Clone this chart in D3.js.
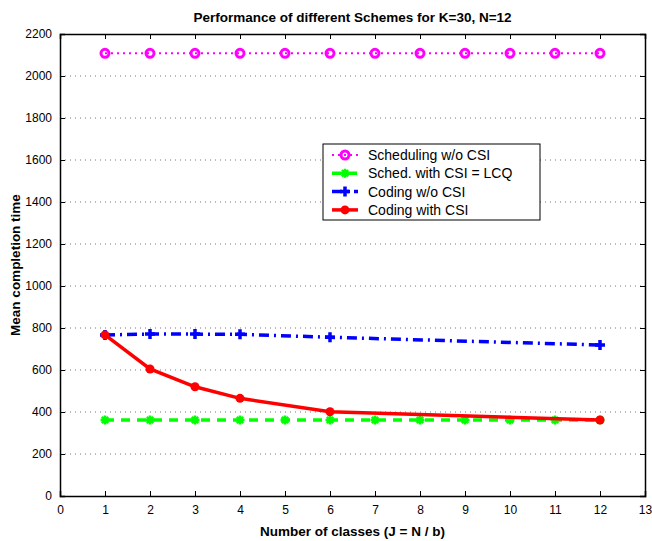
<!DOCTYPE html>
<html>
<head>
<meta charset="utf-8">
<script src="https://cdn.jsdelivr.net/npm/d3@7"></script>
<style>
body { margin: 0; background: #fff; }
text { font-family: "Liberation Sans", Arial, sans-serif; }
</style>
</head>
<body>
<script>
// data
var jAll = [1, 2, 3, 4, 5, 6, 7, 8, 9, 10, 11, 12];
var jDiv = [1, 2, 3, 4, 6, 12];
var schedNoCsi = [2108, 2108, 2108, 2108, 2108, 2108, 2108, 2108, 2108, 2108, 2108, 2108];
var schedCsi = [362, 362, 362, 362, 362, 362, 362, 362, 362, 362, 362, 362];
var codingNoCsi = [767, 771, 771, 770, 756, 719];
var codingCsi = [767, 605, 520, 465, 401, 362];
var xTicks = [0, 1, 2, 3, 4, 5, 6, 7, 8, 9, 10, 11, 12, 13];
var yTicks = [0, 200, 400, 600, 800, 1000, 1200, 1400, 1600, 1800, 2000, 2200];

var margin = {top: 34, right: 7, bottom: 45, left: 60},
    width = 652 - margin.left - margin.right,
    height = 541 - margin.top - margin.bottom;

var x = d3.scaleLinear().domain([0, 13]).range([0, width]),
    y = d3.scaleLinear().domain([0, 2200]).range([height, 0]);

var svg = d3.select("body").append("svg")
    .attr("width", 652)
    .attr("height", 541);
var g = svg.append("g").attr("transform", "translate(" + margin.left + "," + margin.top + ")");

// horizontal dotted grid
g.selectAll(".grid")
  .data(yTicks.slice(1, -1))
  .enter().append("line")
    .attr("x1", 0).attr("x2", width)
    .attr("y1", function(d) { return y(d); })
    .attr("y2", function(d) { return y(d); })
    .attr("stroke", "#777")
    .attr("stroke-width", 1)
    .attr("stroke-dasharray", "1,4");

// axes with inward ticks on all four sides
g.append("g")
    .attr("transform", "translate(0," + height + ")")
    .call(d3.axisBottom(x).tickValues(xTicks).tickSize(-5).tickPadding(9).tickFormat(d3.format("d")));
g.append("g")
    .call(d3.axisTop(x).tickValues(xTicks).tickSize(-5).tickFormat(""));
g.append("g")
    .call(d3.axisLeft(y).tickValues(yTicks).tickSize(-5).tickPadding(8).tickFormat(d3.format("d")));
g.append("g")
    .attr("transform", "translate(" + width + ",0)")
    .call(d3.axisRight(y).tickValues(yTicks).tickSize(-5).tickFormat(""));

g.selectAll(".domain").attr("stroke", "#000").attr("stroke-width", 1.5);
g.selectAll(".tick line").attr("stroke", "#000");
g.selectAll(".tick text").style("font-size", "12px").attr("fill", "#000");

var series = [
  {name: "Scheduling w/o CSI", xs: jAll, ys: schedNoCsi, color: "#ff00ff", dash: "2,4", width: 2, marker: "circle"},
  {name: "Sched. with CSI = LCQ", xs: jAll, ys: schedCsi, color: "#00ff00", dash: "9,7", width: 3.5, marker: "star"},
  {name: "Coding w/o CSI", xs: jDiv, ys: codingNoCsi, color: "#0000ff", dash: "10,5,2,5", width: 3.5, marker: "plus"},
  {name: "Coding with CSI", xs: jDiv, ys: codingCsi, color: "#ff0000", dash: null, width: 3.5, marker: "dot"}
];

var line = d3.line()
    .x(function(d) { return x(d[0]); })
    .y(function(d) { return y(d[1]); });

function drawMarker(sel, s, px, py) {
  if (s.marker == "circle") {
    sel.append("circle").attr("cx", px).attr("cy", py).attr("r", 4)
      .attr("fill", "none").attr("stroke", s.color).attr("stroke-width", 3);
  } else if (s.marker == "dot") {
    sel.append("circle").attr("cx", px).attr("cy", py).attr("r", 4.5).attr("fill", s.color);
  } else if (s.marker == "plus") {
    sel.append("path").attr("d", "M" + (px - 5) + "," + py + "H" + (px + 5) + "M" + px + "," + (py - 5) + "V" + (py + 5))
      .attr("stroke", s.color).attr("stroke-width", 3.5);
  } else {
    // asterisk-ish star
    var r = 4.5, d = "";
    [0, 45, 90, 135].forEach(function(a) {
      var dx = r * Math.cos(a * Math.PI / 180), dy = r * Math.sin(a * Math.PI / 180);
      d += "M" + (px - dx) + "," + (py - dy) + "L" + (px + dx) + "," + (py + dy);
    });
    sel.append("path").attr("d", d).attr("fill", "none")
      .attr("stroke", s.color).attr("stroke-width", 2.5);
  }
}

series.forEach(function(s) {
  var pts = s.xs.map(function(v, i) { return [v, s.ys[i]]; });
  g.append("path")
    .datum(pts)
    .attr("d", line)
    .attr("fill", "none")
    .attr("stroke", s.color)
    .attr("stroke-width", s.width)
    .attr("stroke-dasharray", s.dash);
  var mk = g.append("g");
  pts.forEach(function(p) { drawMarker(mk, s, x(p[0]), y(p[1])); });
});

// legend
var lg = svg.append("g").attr("transform", "translate(323,144)");
lg.append("rect").attr("width", 217).attr("height", 76)
  .attr("fill", "#fff").attr("stroke", "#000").attr("stroke-width", 1);
series.forEach(function(s, i) {
  var ly = 11 + i * 18.3;
  lg.append("line").attr("x1", 9).attr("x2", 35).attr("y1", ly).attr("y2", ly)
    .attr("stroke", s.color).attr("stroke-width", s.width)
    .attr("stroke-dasharray", s.dash);
  drawMarker(lg, s, 22, ly);
  lg.append("text").attr("x", 45).attr("y", ly).attr("dy", "0.35em")
    .style("font-size", "14px").text(s.name);
});

// title and labels
svg.append("text")
    .attr("x", margin.left + width / 2).attr("y", 22)
    .attr("text-anchor", "middle")
    .style("font-size", "13.5px").style("font-weight", "bold")
    .text("Performance of different Schemes for K=30, N=12");
svg.append("text")
    .attr("x", margin.left + width / 2).attr("y", 536)
    .attr("text-anchor", "middle")
    .style("font-size", "13.5px").style("font-weight", "bold")
    .text("Number of classes (J = N / b)");
svg.append("text")
    .attr("transform", "translate(20," + (margin.top + height / 2) + ") rotate(-90)")
    .attr("text-anchor", "middle")
    .style("font-size", "13.5px").style("font-weight", "bold")
    .text("Mean completion time");
</script>
</body>
</html>
